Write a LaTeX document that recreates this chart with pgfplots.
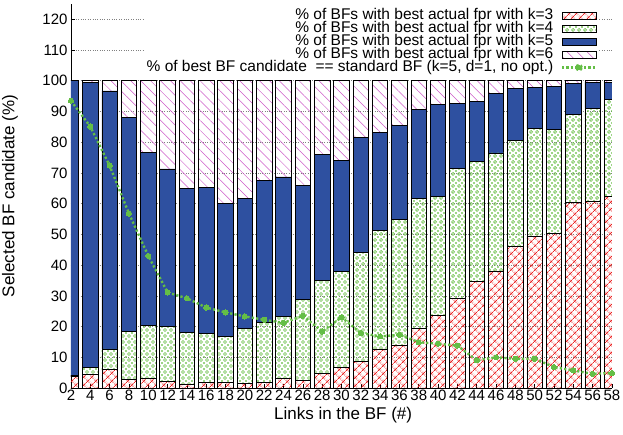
\documentclass[border=0pt]{standalone}
\usepackage{pgfplots}
\pgfplotsset{compat=1.18}
\usepackage{pgfplotstable}
\usepackage{fontspec}
\setmainfont{Liberation Sans}
\usetikzlibrary{patterns,patterns.meta}

\definecolor{bfblue}{RGB}{46,80,160}
\definecolor{bfred}{RGB}{235,35,35}
\definecolor{bfgreen}{RGB}{105,190,70}
\definecolor{bfpink}{RGB}{205,90,200}
\definecolor{linegreen}{RGB}{100,190,70}

\pgfdeclarepatternformonly{rings}{\pgfqpoint{-1bp}{-1bp}}{\pgfqpoint{7bp}{7bp}}{\pgfqpoint{6bp}{6bp}}{%
  \pgfsetlinewidth{0.7bp}%
  \pgfpathcircle{\pgfqpoint{3bp}{3bp}}{1.5bp}\pgfusepath{stroke}%
  \pgfpathcircle{\pgfqpoint{0bp}{0bp}}{0.7bp}\pgfusepath{fill}%
  \pgfpathcircle{\pgfqpoint{6bp}{0bp}}{0.7bp}\pgfusepath{fill}%
  \pgfpathcircle{\pgfqpoint{0bp}{6bp}}{0.7bp}\pgfusepath{fill}%
  \pgfpathcircle{\pgfqpoint{6bp}{6bp}}{0.7bp}\pgfusepath{fill}%
}

\tikzset{
  k3style/.style={draw=black, line width=0.8bp, pattern={Hatch[angle=45,distance=6bp,line width=0.7bp]}, pattern color=bfred},
  k4style/.style={draw=black, line width=0.8bp, pattern=rings, pattern color=bfgreen},
  k5style/.style={draw=black, line width=0.8bp, fill=bfblue},
  k6style/.style={draw=black, line width=0.8bp, pattern={Lines[angle=-45,distance=7bp,line width=0.5bp]}, pattern color=bfpink},
}

\pgfplotstableread{
x k3 k4 k5 k6 line
2 3.8 0.3 95.9 0.0 93.5
4 4.3 2.5 92.8 0.4 85.1
6 5.9 6.8 84.0 3.3 72.4
8 2.8 15.6 69.7 11.9 56.8
10 3.2 17.3 56.1 23.4 43.0
12 2.2 17.9 51.2 28.7 31.1
14 1.2 16.9 46.8 35.1 29.2
16 1.7 16.0 47.7 34.6 26.2
18 1.7 15.1 43.2 40.0 24.6
20 1.4 18.0 42.2 38.4 23.3
22 1.7 19.7 46.2 32.4 22.2
24 3.0 20.3 45.4 31.3 21.2
26 2.5 26.2 37.2 34.1 23.5
28 4.6 30.5 41.0 23.9 18.4
30 6.8 31.2 36.1 25.9 23.0
32 8.6 35.5 37.4 18.5 17.9
34 12.7 38.5 32.0 16.8 16.8
36 14.0 40.9 30.7 14.4 17.3
38 19.4 42.2 29.1 9.3 14.9
40 23.5 38.9 29.9 7.7 14.4
42 29.2 42.3 21.2 7.3 13.8
44 34.8 39.0 19.6 6.6 9.0
46 38.1 38.4 19.4 4.1 10.0
48 46.0 34.7 16.8 2.5 9.5
50 49.5 34.9 13.3 2.3 9.5
52 50.3 34.0 14.0 1.7 6.8
54 60.3 28.8 10.0 0.9 5.7
56 60.9 30.2 8.4 0.5 4.6
58 62.4 31.6 5.5 0.5 4.9
}\datatable

\pgfplotsset{
  common/.style={
    width=541bp, height=384bp, scale only axis,
    xmin=2, xmax=58, ymin=0, ymax=125,
    enlarge x limits=false,
  }
}

\begin{document}
\begin{tikzpicture}
\useasboundingbox (-71bp,-47bp) rectangle (552bp,388bp);
\begin{axis}[common,
  ybar stacked, bar width=1.6,
  axis lines*=left,
  axis line style={line width=0.8bp},
  xtick={2,4,...,58},
  ytick={0,10,...,120},
  tick align=inside,
  major tick length=4bp,
  tick style={black, line width=0.6bp},
  ymajorgrids,
  major grid style={dotted, gray, line width=0.6bp},
  /pgf/number format/assume math mode=true,
  tick label style={font=\fontsize{15bp}{17bp}\selectfont},
  xticklabel style={inner sep=1.5bp},
  label style={font=\fontsize{17bp}{19bp}\selectfont},
  xlabel={Links in the BF (\#)},
  ylabel={Selected BF candidate (\%)},
  xlabel style={at={(axis description cs:0.503,-0.07)}, anchor=center},
  ylabel style={at={(axis description cs:-0.113,0.5)}, anchor=center},
]
\addplot[k3style] table[x=x, y=k3] {\datatable};
\addplot[k4style] table[x=x, y=k4] {\datatable};
\addplot[k5style] table[x=x, y=k5] {\datatable};
\addplot[k6style] table[x=x, y=k6] {\datatable};
\end{axis}
\begin{axis}[common,
  axis lines=none, ticks=none, clip=false,
  legend cell align=right,
  legend plot pos=right,
  legend style={at={(0.975,0.99)}, anchor=north east, fill=white, draw=none,
    font=\fontsize{15.5bp}{12bp}\selectfont,
    inner sep=1bp,
    column sep=7bp,
    nodes={inner sep=0.5bp, text height=10bp, text depth=2bp}},
]
\addlegendimage{legend image code/.code={\draw[k3style] (0bp,-3.5bp) rectangle (34bp,3.5bp);}}
\addlegendentry{\% of BFs with best actual fpr with k=3}
\addlegendimage{legend image code/.code={\draw[k4style] (0bp,-3.5bp) rectangle (34bp,3.5bp);}}
\addlegendentry{\% of BFs with best actual fpr with k=4}
\addlegendimage{legend image code/.code={\draw[k5style] (0bp,-3.5bp) rectangle (34bp,3.5bp);}}
\addlegendentry{\% of BFs with best actual fpr with k=5}
\addlegendimage{legend image code/.code={\draw[k6style] (0bp,-3.5bp) rectangle (34bp,3.5bp);}}
\addlegendentry{\% of BFs with best actual fpr with k=6}
\addplot[linegreen, line width=2.4bp, dash pattern=on 2.2bp off 2.2bp,
  mark=*, mark size=2.6bp, mark options={solid, fill=linegreen, draw=linegreen, line width=0bp},
  legend image code/.code={\draw[linegreen, line width=2.4bp, dash pattern=on 2.2bp off 2.2bp] (0bp,0bp) -- (34bp,0bp); \fill[linegreen] (17bp,0bp) circle (2.6bp);}]
  table[x=x, y=line] {\datatable};
\addlegendentry{\% of best BF candidate \ == standard BF (k=5, d=1, no opt.)}
\end{axis}
\end{tikzpicture}
\end{document}
